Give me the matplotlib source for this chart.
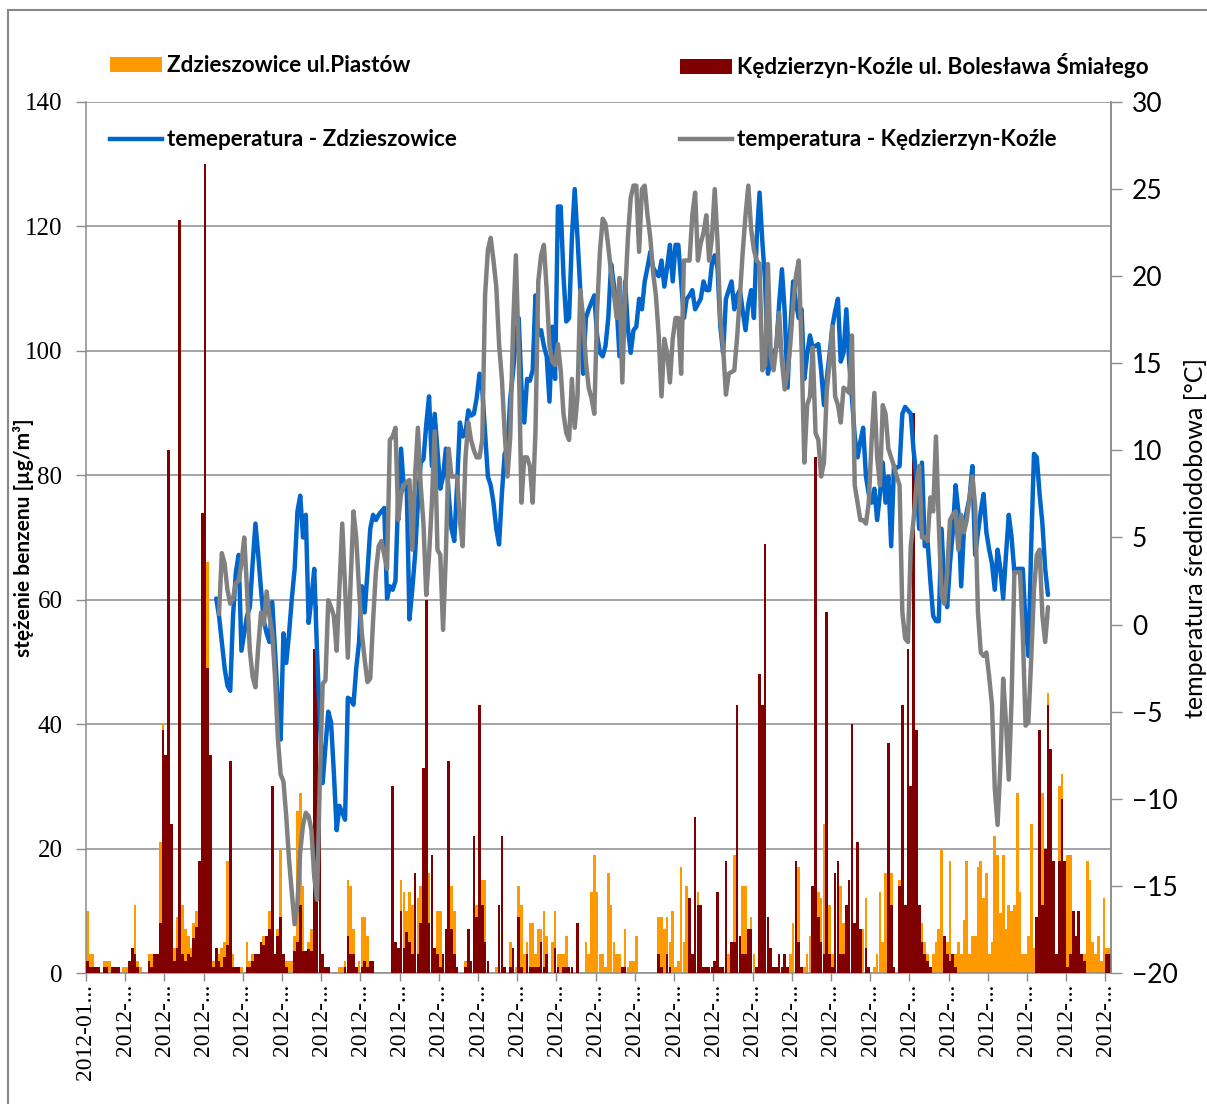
import numpy as np
import matplotlib
matplotlib.use("Agg")
import matplotlib.pyplot as plt
from matplotlib.patches import Rectangle, Patch
from matplotlib.lines import Line2D

# ---------------- data ----------------
series_names = ["Zdzieszowice ul.Piastów", "Kędzierzyn-Koźle ul. Bolesława Śmiałego",
                "temeperatura - Zdzieszowice", "temperatura - Kędzierzyn-Koźle"]
tick_labels = ["2012-01..."] + ["2012-..."] * 26

# daily benzene concentration [µg/m3], 2012 (366 days)
benz_zdz = [
    10, 3, 3, 0, 0, 0, 2, 2, 2, 0,
    0, 1, 0, 1, 1, 0, 0, 11, 2, 1,
    0, 0, 3, 3, 0, 3, 21, 40, 20, 22,
    8, 4, 9, 4, 11, 7, 6, 4, 8, 10,
    8, 10, 20, 66, 10, 2, 0, 3, 4, 5,
    18, 3, 3, 1, 1, 1, 0, 5, 2, 3,
    3, 3, 3, 6, 0, 10, 0, 0, 7, 20,
    0, 2, 2, 2, 6, 26, 29, 14, 1.5, 5,
    7, 11, 0, 0, 0, 1, 0, 0, 0, 0,
    1, 1, 2, 15, 14, 7, 0, 2, 9, 9,
    6, 0, 0, 0, 0, 0, 0, 0, 0, 0,
    5, 0, 15, 13, 10, 13, 11, 13, 12, 14,
    5, 10, 16, 5, 3, 10, 10, 1, 7, 8,
    14, 10, 0, 0, 0, 2, 3, 0, 11, 11,
    10, 15, 15, 0, 0, 0, 1, 2, 0, 0,
    0, 5, 0, 1, 14, 11, 3, 5, 8, 8,
    3, 7, 7, 10, 6, 0, 5, 10, 3, 3,
    3, 6, 0, 0, 0, 0, 0, 0, 5, 3,
    13, 19, 13, 3, 3, 1, 16, 11, 5, 3,
    3, 0, 7, 1, 2, 2, 6, 0, 0, 0,
    0, 0, 0, 0, 9, 9, 7, 9, 5, 10,
    1, 2, 17, 5, 14, 5, 3, 10, 13, 7,
    0, 0, 0, 0, 0, 0, 0, 0, 3, 3,
    0, 19, 10, 0, 14, 14, 3, 9, 3, 0,
    12, 15, 12, 9, 0, 0, 0, 0, 0, 0,
    0, 3, 8, 17, 17, 0, 1, 3, 6, 13,
    10, 13, 12, 24, 10, 11, 3, 13, 10, 14,
    8, 5, 10, 10, 5, 8, 6, 7, 12, 0,
    0, 1, 3, 13, 5, 16, 5, 16, 0, 0,
    15, 10, 10, 10, 12, 15, 10, 3, 8, 5,
    3, 0, 3, 5, 7, 20, 0, 5, 18, 0,
    3, 5, 3, 8.5, 18, 3, 6, 6, 17, 18,
    12, 16, 3, 5, 22, 19, 9.6, 19, 7, 11,
    10, 11, 29, 13, 3, 3, 6, 24, 4, 9,
    10, 29, 14, 45, 36, 10, 1, 30, 32, 3,
    19, 19, 10, 5, 8, 3, 3, 18, 15, 5,
    3, 6, 2, 12, 4, 4,
]

benz_kk = [
    2, 1, 1, 1, 1, 0, 1, 1, 0, 1,
    1, 1, 0, 0, 0, 2, 4, 3, 1, 0,
    0, 0, 2, 1, 3, 3, 8, 39, 35, 84,
    24, 2, 4, 121, 3, 2, 3, 2.6, 5.6, 7.4,
    18, 74, 130, 49, 35, 1, 4, 2, 1, 2.6,
    4.5, 34, 1, 1, 1, 0, 0, 1, 1, 2,
    3, 3, 5, 4.5, 6, 7, 30, 3, 6, 9,
    3, 1, 0, 0, 3.5, 5, 11, 3.5, 3.5, 3.8,
    3.5, 52, 59, 30, 3, 1, 1, 0, 0, 0,
    0, 0, 1, 6, 3, 3, 1, 0, 1, 2,
    1, 2, 2, 0, 0, 0, 0, 0, 0, 30,
    5, 4, 10, 4, 6.6, 5, 3, 16, 3, 8,
    33, 60, 8, 19, 4, 3, 1, 3, 7, 34,
    7, 3, 1, 0, 0, 1, 7, 2, 22, 9,
    43, 11, 5, 2, 0, 0, 0, 11, 22, 1,
    0, 1, 4, 0, 9, 1, 0, 3, 1, 1,
    1, 1, 5, 1, 3, 0, 0, 4, 1, 0,
    1, 1, 1, 1, 0, 8, 0, 0, 0, 0,
    0, 0, 0, 0, 0, 0, 0, 0, 0, 0,
    0, 1, 1, 0, 0, 0, 0, 0, 0, 0,
    0, 0, 0, 0, 3, 1, 0, 3, 1, 0,
    0, 0, 0, 0, 0, 12, 3, 25, 11, 11,
    1, 1, 1, 1, 2, 13, 1, 1, 18, 0,
    5, 5, 43, 6, 3, 3, 7, 7, 0, 1,
    48, 43, 69, 9, 4, 1, 1, 3, 1, 3,
    1, 0, 0, 18, 5, 1, 0, 0, 0, 14,
    83, 9, 5, 3, 58, 3, 1, 16, 18, 3,
    3, 11, 15, 40, 8, 21, 7, 0, 4, 1,
    0, 0, 0, 0, 0, 0, 37, 11, 1, 0,
    14, 43, 11, 52, 30, 90, 39, 11, 5, 3,
    2, 1, 0, 0, 0, 0, 6, 3, 2, 3,
    1, 0, 0, 0, 0, 0, 0, 0, 0, 0,
    0, 0, 0, 0, 0, 0, 0, 0, 0, 0,
    0, 0, 0, 0, 0, 0, 0, 0, 0, 9,
    39, 11, 20, 43, 36, 18, 3, 18, 28, 18,
    1, 3, 10, 6, 10, 3, 2, 0, 0, 0,
    0, 0, 0, 0, 3, 3,
]

# daily mean temperature [°C]; first value belongs to day index given by *_start
temp_zdz_start = 46
temp_zdz = [
    1.5, 0.5, -1.0, -2.5, -3.5, -3.8, 0.5, 3.0, 4.0, -1.5,
    -0.5, 0.5, 1.0, 3.5, 5.8, 4.0, 2.0, 0.2, -0.5, -1.0,
    1.3, -1.5, -4.5, -6.6, -0.5, -2.2, -0.5, 1.5, 3.2, 6.5,
    7.4, 5.0, 6.3, 0.1, 1.5, 3.2, -1.6, -5.5, -9.1, -7.0,
    -5.0, -5.6, -8.5, -11.8, -10.4, -10.8, -11.2, -4.2, -4.3, -4.6,
    -2.5, -1.0, 2.2, 0.7, 3.0, 5.5, 6.3, 6.0, 6.3, 6.5,
    6.7, 1.5, 2.2, 2.0, 2.5, 7.5, 10.1, 7.8, 8.0, 0.3,
    2.0, 4.0, 7.0, 9.3, 9.5, 11.5, 13.1, 9.1, 12.1, 10.0,
    7.8, 8.5, 10.1, 7.5, 5.5, 4.8, 8.0, 11.6, 10.8, 11.0,
    12.3, 12.0, 12.1, 13.0, 14.4, 13.5, 11.0, 8.5, 8.0, 7.0,
    5.5, 4.6, 7.5, 9.8, 10.1, 13.0, 14.5, 16.6, 17.6, 13.6,
    11.6, 14.1, 14.0, 14.6, 18.9, 16.6, 16.9, 16.0, 15.4, 12.8,
    17.1, 14.1, 24.0, 24.0, 20.0, 17.4, 17.6, 22.2, 25.0, 22.2,
    19.2, 14.4, 17.6, 18.1, 18.5, 18.9, 16.6, 15.6, 15.4, 16.0,
    17.6, 20.7, 19.5, 18.2, 15.4, 15.6, 19.7, 17.0, 15.6, 16.9,
    17.1, 18.7, 18.1, 19.7, 20.5, 21.4, 20.5, 20.2, 20.0, 20.9,
    19.4, 20.5, 21.8, 19.7, 21.8, 21.8, 19.7, 17.6, 18.7, 18.9,
    19.2, 18.1, 18.4, 18.7, 19.7, 19.2, 19.2, 20.7, 21.2, 20.5,
    17.1, 15.6, 18.7, 19.2, 19.7, 18.1, 18.9, 19.2, 18.0, 16.9,
    18.4, 19.2, 17.6, 22.2, 24.8, 22.0, 19.7, 14.4, 15.4, 15.6,
    15.9, 18.4, 20.4, 17.9, 13.6, 17.0, 19.7, 18.5, 17.6, 18.1,
    14.1, 15.5, 16.6, 15.9, 16.0, 16.1, 14.6, 12.6, 14.1, 15.5,
    17.1, 18.0, 18.7, 15.1, 15.6, 18.1, 15.1, 13.0, 10.8, 9.6,
    10.5, 11.3, 8.5, 7.5, 7.0, 7.8, 6.0, 7.5, 9.3, 7.0,
    8.5, 4.5, 9.1, 9.0, 9.1, 12.1, 12.5, 12.3, 12.1, 10.0,
    8.5, 5.5, 9.3, 4.5, 4.8, 2.5, 0.5, 0.2, 0.2, 5.5,
    2.0, 1.0, 3.5, 5.3, 8.0, 6.5, 2.2, 5.5, 6.5, 7.3,
    9.1, 4.0, 5.3, 6.5, 7.5, 5.3, 4.3, 3.5, 2.0, 4.3,
    3.2, 1.5, 4.0, 6.3, 5.0, 3.0, 3.2, 3.2, 3.2, 0.0,
    -1.8, 4.5, 9.8, 9.6, 7.5, 5.8, 3.2, 1.7,
]

temp_kk_start = 47
temp_kk = [
    0.6, 4.1, 3.5, 2.0, 1.2, 1.5, 2.4, 2.5, 3.5, 5.0,
    2.0, -1.5, -3.0, -3.6, -1.3, 0.7, 0.0, 1.9, 0.5, -0.5,
    -3.0, -6.5, -8.6, -9.0, -11.0, -13.5, -15.4, -17.2, -16.0, -13.0,
    -11.5, -10.8, -11.0, -11.8, -14.5, -15.8, -8.9, -3.4, -3.2, 1.4,
    1.0, 0.5, -1.5, 2.2, 5.8, 2.2, -1.9, 2.5, 6.5, 5.0,
    2.0, -0.5, -2.0, -3.3, -3.1, 0.2, 3.0, 4.5, 4.8, 4.0,
    3.2, 10.6, 10.8, 11.3, 6.0, 7.5, 8.0, 8.2, 8.3, 4.3,
    8.5, 11.3, 8.0, 5.8, 1.7, 4.0, 7.0, 11.1, 4.3, 4.0,
    -0.3, 4.0, 10.1, 8.5, 8.5, 8.5, 6.0, 4.5, 9.6, 11.6,
    10.6, 10.0, 9.6, 9.6, 10.6, 18.9, 21.5, 22.2, 20.9, 19.4,
    16.1, 14.1, 11.0, 8.5, 10.8, 17.1, 21.2, 15.6, 7.0, 9.6,
    9.6, 9.1, 7.0, 11.1, 19.7, 21.2, 21.8, 19.2, 16.0, 15.1,
    14.9, 16.1, 14.6, 12.1, 11.0, 10.6, 14.1, 11.3, 13.1, 19.2,
    17.6, 15.1, 13.6, 13.0, 12.1, 18.0, 21.4, 23.3, 23.0, 21.7,
    20.2, 19.0, 17.6, 19.9, 13.9, 18.9, 22.2, 24.5, 25.2, 25.2,
    21.4, 25.0, 25.2, 23.5, 22.2, 20.2, 18.9, 16.6, 13.1, 16.4,
    15.6, 13.9, 16.4, 17.6, 17.6, 14.4, 20.9, 20.9, 20.9, 23.5,
    24.8, 20.9, 21.9, 22.5, 23.5, 20.9, 22.2, 25.0, 22.0, 17.5,
    15.9, 13.2, 14.4, 14.5, 14.6, 16.5, 18.9, 21.4, 23.5, 25.2,
    22.7, 21.5, 20.9, 20.7, 14.6, 14.9, 20.7, 15.4, 14.6, 16.0,
    17.9, 15.1, 13.5, 14.5, 16.1, 18.4, 20.0, 20.9, 15.9, 9.3,
    12.6, 13.1, 15.9, 11.0, 10.6, 8.5, 9.3, 13.4, 15.0, 17.1,
    13.1, 12.6, 11.6, 13.6, 13.5, 13.3, 16.6, 8.0, 7.0, 6.0,
    6.0, 5.8, 7.0, 10.5, 13.3, 9.6, 8.0, 12.6, 12.1, 10.1,
    9.6, 9.1, 8.5, 8.0, 0.7, -0.8, -1.0, 4.5, 6.0, 8.0,
    9.1, 5.0, 5.0, 4.8, 7.3, 6.5, 10.8, 5.8, 1.7, 1.2,
    3.0, 6.0, 6.3, 6.5, 4.3, 6.3, 5.3, 6.0, 7.3, 8.5,
    6.8, 0.7, -1.6, -1.8, -1.6, -3.0, -4.6, -9.4, -11.5, -8.1,
    -3.1, -5.6, -8.9, -4.3, 3.0, 3.0, 3.0, -0.5, -5.8, -5.6,
    -2.0, 2.0, 4.0, 4.3, 0.5, -1.0, 1.0,
]

# ---------------- style ----------------
C_ORANGE = "#FF9900"
C_MAROON = "#800000"
C_BLUE = "#0066CC"
C_GREY = "#808080"
C_AXIS = "#8C8C8C"
SANS = ["Lato", "DejaVu Sans"]
SERIF = ["Liberation Serif", "DejaVu Serif"]
LW = 3.2

W, H = 1207, 1104
fig = plt.figure(figsize=(W / 100, H / 100), dpi=100)
fig.patch.set_facecolor("white")

ax = fig.add_axes([86 / W, 1 - 973 / H, 1025 / W, 871 / H])
days = np.arange(len(benz_zdz))
ax.bar(days, benz_zdz, width=0.96, color=C_ORANGE, linewidth=0, zorder=2)
ax.bar(days, benz_kk, width=0.96, color=C_MAROON, linewidth=0, zorder=3)
ax.set_xlim(-0.5, len(days) - 0.5)
ax.set_ylim(0, 140)
ax.set_yticks(np.arange(0, 141, 20))
ax.yaxis.grid(True, color=C_AXIS, linewidth=1.1, zorder=0)
ax.set_axisbelow(True)

xt = np.arange(0, len(days), 14) - 0.5
ax.set_xticks(xt)
ax.set_xticklabels(tick_labels[:len(xt)], rotation=90, fontfamily=SERIF, fontsize=17)
ax.tick_params(axis="x", length=6, width=1, color=C_AXIS, pad=2)
ax.tick_params(axis="y", length=7, width=1, color=C_AXIS, pad=10, labelsize=18)
for lbl in ax.get_yticklabels():
    lbl.set_fontfamily(SERIF)

ax.spines["top"].set_visible(False)
for side in ["left", "bottom", "right"]:
    ax.spines[side].set_color(C_AXIS)
    ax.spines[side].set_linewidth(1.1)

ax.set_ylabel("stężenie benzenu [µg/m³]", fontfamily=SANS, fontweight="bold", fontsize=15)
ax.yaxis.set_label_coords(-0.051, 0.5)

ax2 = ax.twinx()
x_zdz = np.arange(temp_zdz_start, temp_zdz_start + len(temp_zdz))
x_kk = np.arange(temp_kk_start, temp_kk_start + len(temp_kk))
ax2.plot(x_zdz, temp_zdz, color=C_BLUE, linewidth=LW, solid_joinstyle="round", solid_capstyle="round")
ax2.plot(x_kk, temp_kk, color=C_GREY, linewidth=LW, solid_joinstyle="round", solid_capstyle="round")
ax2.set_ylim(-20, 30)
ax2.set_yticks(np.arange(-20, 31, 5))
ax2.tick_params(axis="y", length=8, width=1, color=C_AXIS, pad=7, labelsize=19)
for lbl in ax2.get_yticklabels():
    lbl.set_fontfamily(SANS)
for side in ["top", "left", "bottom"]:
    ax2.spines[side].set_visible(False)
ax2.spines["right"].set_color(C_AXIS)
ax2.spines["right"].set_linewidth(1.1)
ax2.set_ylabel("temperatura średniodobowa [°C]", fontfamily=SANS, fontsize=18)
ax2.yaxis.set_label_coords(1.071, 0.5)

# ---------------- legends ----------------
leg_font = {"family": SANS, "weight": "bold", "size": 16.2}
entries = [
    (Patch(facecolor=C_ORANGE), series_names[0], 110, 66),
    (Patch(facecolor=C_MAROON), series_names[1], 680, 66),
    (Line2D([], [], color=C_BLUE, linewidth=LW), series_names[2], 110, 140),
    (Line2D([], [], color=C_GREY, linewidth=LW), series_names[3], 680, 140),
]
for handle, label, px, py in entries:
    fig.legend([handle], [label], loc="center left", bbox_to_anchor=(px / W, 1 - py / H),
               frameon=False, borderpad=0, borderaxespad=0, handlelength=2.3,
               handleheight=0.6, handletextpad=0.25, prop=leg_font)

# chart-area frame (left and top edges visible, rest outside the image)
fig.patches.append(Rectangle((8 / W, -0.2), 2.0, 1.2 - 10 / H, transform=fig.transFigure,
                             fill=False, edgecolor="#888888", linewidth=1.5, clip_on=False))

fig.savefig("out.png", dpi=100)
